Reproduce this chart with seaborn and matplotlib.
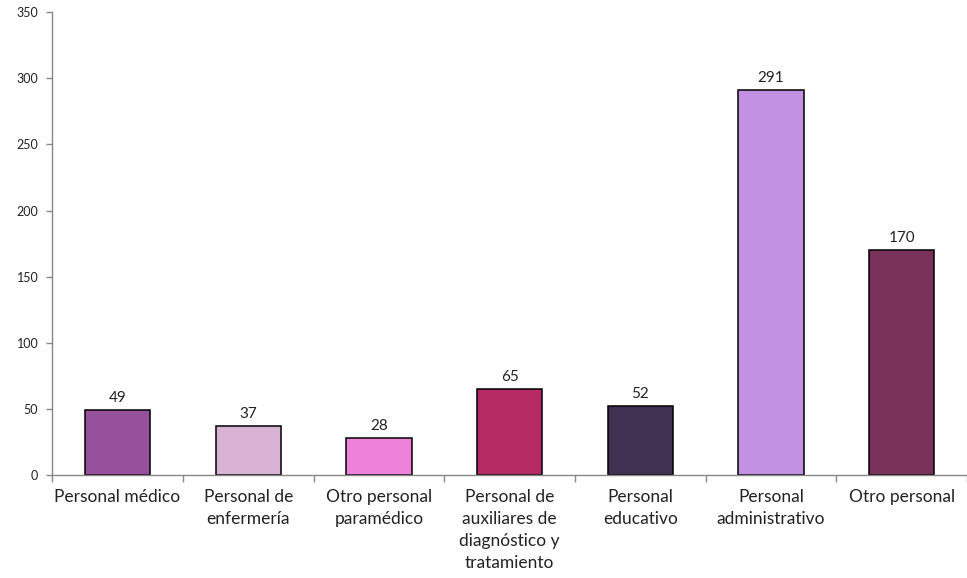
import matplotlib.pyplot as plt
import seaborn as sns
import pandas as pd
import numpy as np

sns.set_theme(style="white")
plt.rcParams['font.family'] = ['Lato', 'DejaVu Sans']

categorias = ['Personal médico', 'Personal de\nenfermería', 'Otro personal\nparamédico',
              'Personal de\nauxiliares de\ndiagnóstico y\ntratamiento', 'Personal\neducativo',
              'Personal\nadministrativo', 'Otro personal']
valores = [49, 37, 28, 65, 52, 291, 170]
colores = ['#96509C', '#D9B3D6', '#EE82D8', '#B52A63', '#3F3152', '#C291E3', '#7A3159']

df = pd.DataFrame({'cat': categorias, 'val': valores})

fig = plt.figure(figsize=(9.67, 5.78), dpi=100)
ax = fig.add_axes([0.054, 0.178, 0.946, 0.801])

sns.barplot(data=df, x='cat', y='val', hue='cat', palette=colores, legend=False,
            saturation=1, width=0.5, edgecolor='black', linewidth=1.1, ax=ax)

for i, v in enumerate(valores):
    ax.text(i, v + 4, str(v), ha='center', va='bottom', fontsize=11, color='#222222')

ax.set_ylim(0, 350)
ax.set_xlim(-0.5, len(categorias) - 0.5)
ax.set_yticks(np.arange(0, 351, 50))
ax.set_xlabel('')
ax.set_ylabel('')
ax.tick_params(axis='y', labelsize=9, length=4, width=1, color='#888888', left=True, pad=6)
ax.tick_params(axis='x', which='major', length=0, labelsize=12.5, pad=10)
ax.set_xticks(np.arange(-0.5, len(categorias), 1), minor=True)
ax.tick_params(axis='x', which='minor', length=5, width=1, color='#888888', bottom=True)
for lab in ax.get_xticklabels():
    lab.set_va('top')
    lab.set_color('#222222')
    lab.set_linespacing(1.45)
for lab in ax.get_yticklabels():
    lab.set_color('#222222')

for s in ['top', 'right']:
    ax.spines[s].set_visible(False)
for s in ['left', 'bottom']:
    ax.spines[s].set_color('#888888')
    ax.spines[s].set_linewidth(1)

plt.savefig('out.png', dpi=100)
